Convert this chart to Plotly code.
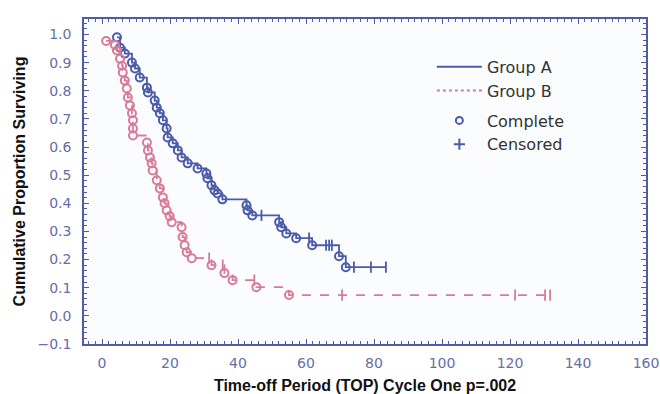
import plotly.graph_objects as go

# ---- Data ----
a_time = [4.4, 5.3, 6.7, 8.8, 9.7, 11.1, 13.2, 13.5, 15.5, 16.1, 17.0, 17.9, 19.0, 19.3,
          20.8, 22.3, 23.4, 25.2, 28.1, 30.7, 31.0, 32.2, 33.1, 34.0, 35.4, 42.5, 42.8,
          44.2, 46.9, 52.1, 52.7, 54.2, 57.1, 60.9, 61.8, 65.9, 66.8, 67.6, 69.7, 71.7,
          74.1, 79.1, 83.5]
a_surv = [0.990, 0.953, 0.932, 0.900, 0.879, 0.847, 0.811, 0.794, 0.765, 0.740, 0.720,
          0.695, 0.666, 0.634, 0.613, 0.588, 0.563, 0.542, 0.524, 0.506, 0.489, 0.464,
          0.446, 0.435, 0.414, 0.393, 0.375, 0.357, 0.357, 0.333, 0.315, 0.293, 0.276,
          0.276, 0.251, 0.251, 0.251, 0.251, 0.212, 0.173, 0.173, 0.173, 0.173]
a_event = [1, 1, 1, 1, 1, 1, 1, 1, 1, 1, 1, 1, 1, 1, 1, 1, 1, 1, 1, 1, 1, 1, 1, 1, 1, 1, 1,
           1, 0, 1, 1, 1, 1, 0, 1, 0, 0, 0, 1, 1, 0, 0, 0]

b_time = [1.2, 3.8, 4.4, 5.3, 5.9, 6.1, 6.7, 7.3, 7.6, 8.2, 8.8, 9.1, 9.1, 9.1, 13.2, 13.5,
          14.1, 14.6, 14.9, 16.1, 17.0, 17.9, 18.4, 19.0, 19.9, 20.5, 23.4, 23.7, 24.3,
          24.9, 26.4, 31.5, 32.2, 35.5, 36.0, 38.4, 44.8, 45.4, 55.0, 70.6, 121.5, 130.3,
          131.8]
b_surv = [0.977, 0.963, 0.943, 0.914, 0.889, 0.865, 0.836, 0.808, 0.776, 0.748, 0.720,
          0.695, 0.666, 0.641, 0.616, 0.588, 0.563, 0.542, 0.517, 0.482, 0.453, 0.421,
          0.400, 0.375, 0.354, 0.333, 0.315, 0.280, 0.251, 0.226, 0.205, 0.205, 0.180,
          0.180, 0.152, 0.127, 0.127, 0.102, 0.074, 0.074, 0.074, 0.074, 0.074]
b_event = [1, 1, 1, 1, 1, 1, 1, 1, 1, 1, 1, 1, 1, 1, 1, 1, 1, 1, 1, 1, 1, 1, 1, 1, 1, 1, 1,
           1, 1, 1, 1, 0, 1, 0, 1, 1, 0, 1, 1, 0, 0, 0, 0]

x_ticks = [0, 20, 40, 60, 80, 100, 120, 140, 160]
y_ticks = [-0.1, 0.0, 0.1, 0.2, 0.3, 0.4, 0.5, 0.6, 0.7, 0.8, 0.9, 1.0]

BLUE = "#4b5bab"
PINK = "#d97a98"
AXIS = "#4f5aa8"
TICKLBL = "#646ea8"

fig = go.Figure()


def add_group(t, s, ev, color, dash):
    fig.add_trace(go.Scatter(x=t, y=s, mode="lines", line=dict(color=color, width=1.8,
                  shape="hv", dash=dash), showlegend=False, hoverinfo="skip"))
    ct = [x for x, e in zip(t, ev) if e == 1]
    cs = [y for y, e in zip(s, ev) if e == 1]
    fig.add_trace(go.Scatter(x=ct, y=cs, mode="markers", showlegend=False,
                  marker=dict(symbol="circle-open", size=8, color=color,
                              line=dict(width=2, color=color))))
    xt = [x for x, e in zip(t, ev) if e == 0]
    xs = [y for y, e in zip(s, ev) if e == 0]
    fig.add_trace(go.Scatter(x=xt, y=xs, mode="markers", showlegend=False,
                  marker=dict(symbol="line-ns", size=8, color=color,
                              line=dict(width=1.8, color=color))))


add_group(a_time, a_surv, a_event, BLUE, "solid")
add_group(b_time, b_surv, b_event, PINK, "dash")

# legend entries
fig.add_trace(go.Scatter(x=[None], y=[None], mode="lines", name="Group A",
                         legendgroup="g1", line=dict(color=BLUE, width=2)))
fig.add_trace(go.Scatter(x=[None], y=[None], mode="lines", name="Group B",
                         legendgroup="g1", line=dict(color=PINK, width=2, dash="dot")))
fig.add_trace(go.Scatter(x=[None], y=[None], mode="markers", name="Complete",
                         legendgroup="g2",
                         marker=dict(symbol="circle-open", size=7, color=BLUE,
                                     line=dict(width=2, color=BLUE))))
fig.add_trace(go.Scatter(x=[None], y=[None], mode="markers", name="Censored",
                         legendgroup="g2",
                         marker=dict(symbol="cross-thin-open", size=8, color=BLUE,
                                     line=dict(width=2, color=BLUE))))

axis_common = dict(showline=True, linecolor=AXIS, linewidth=1.5, mirror="allticks",
                   ticks="inside", ticklen=5, tickcolor=AXIS, tickwidth=1.2,
                   showgrid=False, zeroline=False, automargin=False,
                   tickfont=dict(family="DejaVu Sans", size=14, color=TICKLBL))

fig.update_xaxes(range=[-5.3, 160], tickvals=x_ticks, **axis_common, ticklabelstandoff=5,
                 minor=dict(dtick=2, ticklen=3, tickcolor=AXIS, ticks="inside"),
                 title=dict(text="Time-off Period (TOP) Cycle One p=.002", standoff=10,
                            font=dict(family="Liberation Sans", size=16, color="#111",
                                      weight="bold")))
fig.update_yaxes(range=[-0.1, 1.055], tickvals=y_ticks, tickformat=".1f", **axis_common,
                 ticklabelstandoff=8,
                 minor=dict(dtick=0.02, ticklen=3, tickcolor=AXIS, ticks="inside"),
                 title=dict(text="Cumulative Proportion Surviving", standoff=8,
                            font=dict(family="Liberation Sans", size=16, color="#111",
                                      weight="bold")))

fig.update_layout(
    width=660, height=394,
    margin=dict(l=84, r=14, t=19, b=50),
    paper_bgcolor="white", plot_bgcolor="#fafcfe",
    legend=dict(x=0.619, y=0.905, xanchor="left", yanchor="top",
                bgcolor="rgba(0,0,0,0)", traceorder="grouped", tracegroupgap=6,
                itemwidth=45,
                font=dict(family="DejaVu Sans", size=16, color="#333333")),
)

fig.write_html("out.html")
